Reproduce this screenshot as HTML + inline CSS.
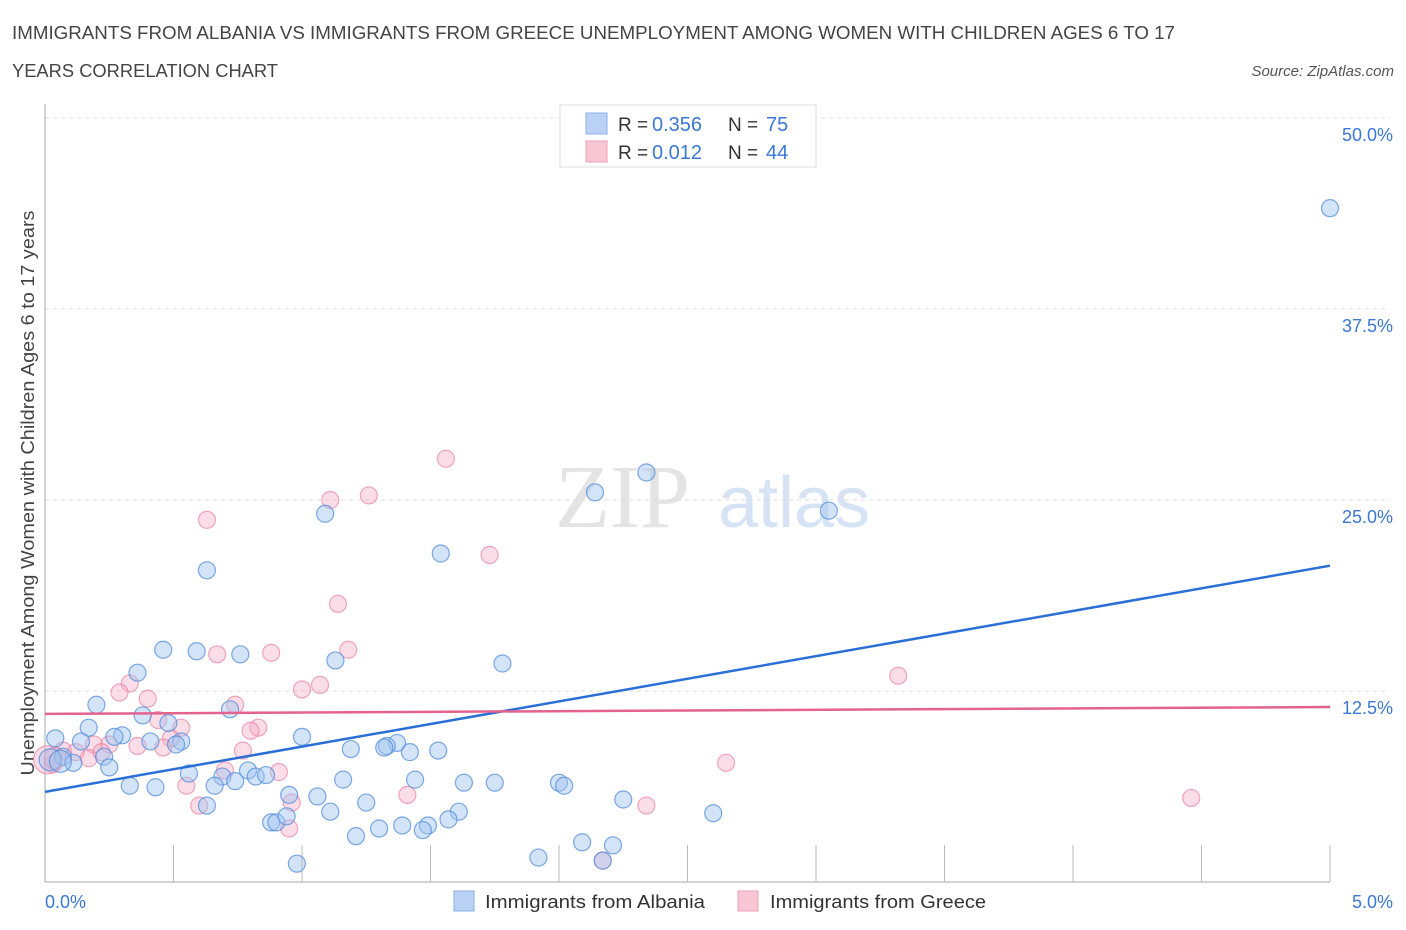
<!DOCTYPE html>
<html><head><meta charset="utf-8"><style>
body{margin:0;background:#fff;font-family:"Liberation Sans",sans-serif;}
#wrap{position:relative;width:1406px;height:930px;overflow:hidden;}
</style></head><body>
<div id="wrap">
<svg id="chart" width="1406" height="930" xmlns="http://www.w3.org/2000/svg"></svg>
</div>
<script>
const blueX=[5.00,2.34,2.14,1.09,3.05,1.54,0.63,0.46,0.59,0.76,1.13,1.78,0.36,0.20,0.72,0.38,0.17,0.48,0.30,0.27,1.00,0.04,0.14,0.41,0.53,0.51,1.37,1.33,1.32,1.19,1.42,1.53,0.07,0.11,0.23,0.25,0.56,0.79,0.82,0.86,0.69,0.74,0.66,1.16,1.44,1.63,1.75,2.00,2.02,0.33,0.43,0.95,1.06,1.25,0.63,1.11,1.61,2.25,2.60,0.88,0.90,0.94,1.39,1.49,1.47,1.57,1.30,1.21,2.09,2.21,1.92,2.17,0.98,0.02,0.06];
const blueY=[44.1,26.8,25.5,24.1,24.3,21.5,20.4,15.2,15.1,14.9,14.5,14.3,13.7,11.6,11.3,10.9,10.1,10.4,9.6,9.5,9.5,9.4,9.2,9.2,9.2,9.0,9.1,8.9,8.8,8.7,8.5,8.6,8.2,7.8,8.2,7.5,7.1,7.3,6.9,7.0,6.9,6.6,6.3,6.7,6.7,6.5,6.5,6.5,6.3,6.3,6.2,5.7,5.6,5.2,5.0,4.6,4.6,5.4,4.5,3.9,3.9,4.3,3.7,3.7,3.4,4.1,3.5,3.0,2.6,2.4,1.6,1.4,1.2,8.0,7.9];
const pinkX=[1.56,1.26,1.11,0.63,1.73,1.14,1.18,0.67,0.88,1.07,1.00,3.32,0.33,0.40,0.29,0.74,0.53,0.44,0.83,0.80,0.49,0.19,0.25,0.36,0.46,0.77,0.07,0.12,0.17,0.22,0.03,0.70,0.91,2.65,0.55,1.41,0.96,0.60,0.95,2.34,4.46,2.17,0.01,0.04];
const pinkY=[27.7,25.3,25.0,23.7,21.4,18.2,15.2,14.9,15.0,12.9,12.6,13.5,13.0,12.0,12.4,11.6,10.1,10.6,10.1,9.9,9.4,9.0,9.0,8.9,8.8,8.6,8.6,8.5,8.1,8.5,7.7,7.3,7.2,7.8,6.3,5.7,5.2,5.0,3.5,5.0,5.5,1.4,8.0,8.1];
const blueTrend=[5.9,20.7];
const pinkTrend=[11.0,11.45];
const yTicks=[12.5,25.0,37.5,50.0];
const yTickLabels=["12.5%","25.0%","37.5%","50.0%"];

const X0=45,X1=1330,Y0=882,PXPER=191/12.5;
const sx=v=>X0+(v/5)*(X1-X0);
const sy=v=>Y0-v*PXPER;
const NS="http://www.w3.org/2000/svg";
const svg=document.getElementById('chart');
function mk(tag,attrs,parent){const e=document.createElementNS(NS,tag);for(const k in attrs)e.setAttribute(k,attrs[k]);(parent||svg).appendChild(e);return e;}

let t=mk('text',{x:12,y:39,'font-size':18,fill:'#444',textLength:1163,lengthAdjust:'spacingAndGlyphs'});t.textContent='IMMIGRANTS FROM ALBANIA VS IMMIGRANTS FROM GREECE UNEMPLOYMENT AMONG WOMEN WITH CHILDREN AGES 6 TO 17';

t=mk('text',{x:12,y:77,'font-size':18,fill:'#444',textLength:266,lengthAdjust:'spacingAndGlyphs'});t.textContent='YEARS CORRELATION CHART';

t=mk('text',{x:1394,y:76,'font-size':15,fill:'#555','font-style':'italic','text-anchor':'end'});t.textContent='Source: ZipAtlas.com';


t=mk('text',{x:555,y:527,'font-size':90,fill:'#e4e4e4','font-family':'Liberation Serif'});t.textContent='ZIP';

t=mk('text',{x:718,y:527,'font-size':72,fill:'#d5e3f5'});t.textContent='atlas';


let g=mk('line',{x1:X0,x2:X1+60,y1:118,y2:118,stroke:'#ddd','stroke-dasharray':'4,4'});

yTicks.forEach((v,i)=>{
 const l=mk('line',{x1:X0,x2:X1+60,y1:sy(v),y2:sy(v),stroke:'#ddd','stroke-dasharray':'4,4'});
 
 const tx=mk('text',{x:1393,y:sy(v)+23,'font-size':18,fill:'#3a78d4','text-anchor':'end'});tx.textContent=yTickLabels[i];
 
});
let a=mk('line',{x1:X0,x2:X0,y1:104,y2:Y0,stroke:'#aaa'});
a=mk('line',{x1:X0,x2:X1,y1:Y0,y2:Y0,stroke:'#aaa'});
for(let i=1;i<=10;i++){const k=mk('line',{x1:sx(i*0.5),x2:sx(i*0.5),y1:845,y2:Y0,stroke:'#bbb'});}
t=mk('text',{x:45,y:908,'font-size':18,fill:'#3a78d4'});t.textContent='0.0%';
t=mk('text',{x:1393,y:908,'font-size':18,fill:'#3a78d4','text-anchor':'end'});t.textContent='5.0%';
t=mk('text',{x:34,y:493,'font-size':18,fill:'#444','text-anchor':'middle',transform:'rotate(-90 34 493)',textLength:565,lengthAdjust:'spacingAndGlyphs'});t.textContent='Unemployment Among Women with Children Ages 6 to 17 years';


pinkX.forEach((v,i)=>{const c=mk('circle',{cx:sx(v),cy:sy(pinkY[i]),r:i>=42?(i==42?14:11):8.5,fill:'rgba(245,170,195,0.4)',stroke:'rgba(235,130,165,0.7)','stroke-width':1.2});
 });
blueX.forEach((v,i)=>{const c=mk('circle',{cx:sx(v),cy:sy(blueY[i]),r:i>=73?11:8.5,fill:'rgba(160,195,240,0.45)',stroke:'rgba(80,140,220,0.75)','stroke-width':1.2});
 });

let tr=mk('line',{x1:sx(0),y1:sy(blueTrend[0]),x2:sx(5),y2:sy(blueTrend[1]),stroke:'#2a6fd6','stroke-width':2.5});

tr=mk('line',{x1:sx(0),y1:sy(pinkTrend[0]),x2:sx(5),y2:sy(pinkTrend[1]),stroke:'#e4628e','stroke-width':2.5});


const lg=mk('g',{});
mk('rect',{x:560,y:105,width:256,height:62,fill:'#fff',stroke:'#ddd'},lg);
mk('rect',{x:586,y:113,width:21,height:21,fill:'#b8d1f5',stroke:'#8ab0e8'},lg);
mk('rect',{x:586,y:141,width:21,height:21,fill:'#f8c6d5',stroke:'#eea0b8'},lg);
[['0.356','75',131],['0.012','44',159]].forEach(r=>{
 let e=mk('text',{x:618,y:r[2],'font-size':19,fill:'#333'},lg);e.textContent='R = ';
 e=mk('text',{x:652,y:r[2],'font-size':20,fill:'#3a78d4'},lg);e.textContent=r[0];
 e=mk('text',{x:728,y:r[2],'font-size':19,fill:'#333'},lg);e.textContent='N = ';
 e=mk('text',{x:766,y:r[2],'font-size':20,fill:'#3a78d4'},lg);e.textContent=r[1];
});
const bl=mk('g',{});
mk('rect',{x:454,y:891,width:20,height:20,fill:'#b8d1f5',stroke:'#8ab0e8'},bl);
let e=mk('text',{x:485,y:908,'font-size':18,fill:'#333',textLength:220,lengthAdjust:'spacingAndGlyphs'},bl);e.textContent='Immigrants from Albania';
mk('rect',{x:738,y:891,width:20,height:20,fill:'#f8c6d5',stroke:'#eea0b8'},bl);
e=mk('text',{x:770,y:908,'font-size':18,fill:'#333',textLength:216,lengthAdjust:'spacingAndGlyphs'},bl);e.textContent='Immigrants from Greece';
</script>
</body></html>
